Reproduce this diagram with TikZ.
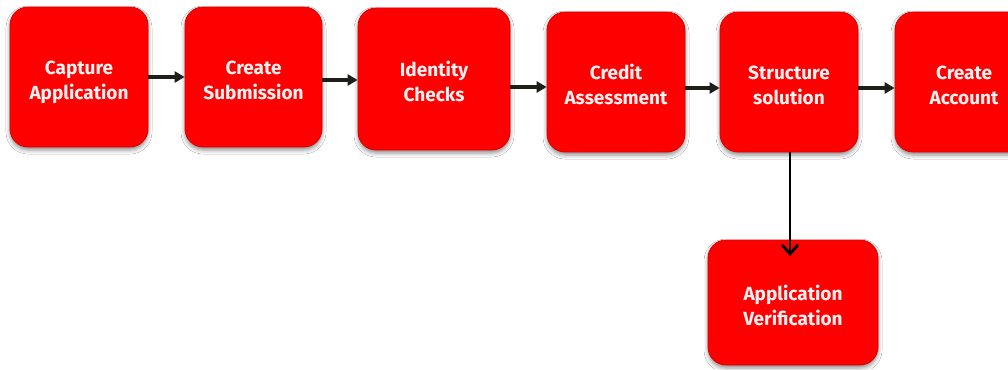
\documentclass[tikz,border=0pt]{standalone}
\usepackage{fontspec}
\setmainfont{Fira Sans}
\usetikzlibrary{arrows.meta,shadows.blur}
\definecolor{boxred}{HTML}{FF0000}
\definecolor{boxedge}{HTML}{D80000}
\definecolor{arrowc}{HTML}{1E1E1A}
\definecolor{txtc}{HTML}{FFF2F2}
\tikzset{
  stepbox/.style={draw=boxedge, line width=0.8pt, fill=boxred, rounded corners=18pt,
    minimum width=138pt, minimum height=140pt, inner sep=0pt,
    text=txtc, font=\fontsize{19}{25}\selectfont\bfseries, align=center,
    text height=46pt, text depth=1pt,
    blur shadow={shadow xshift=0pt, shadow yshift=-3pt, shadow blur radius=4pt, shadow opacity=45}},
  flow/.style={draw=arrowc, line width=3.2pt, -{Triangle[length=10pt,width=11pt]}},
  downflow/.style={draw=black, line width=2.8pt, -{Straight Barb[length=9pt,width=16pt,line width=2.8pt]}}
}
\begin{document}
\begin{tikzpicture}[x=1pt,y=-1pt]
\useasboundingbox (0,0) rectangle (1008,369);
\clip (0,0) rectangle (1008,369);
\fill[white] (0,0) rectangle (1008,369);
\node[stepbox] (b1) at (79,77) {Capture\\Application};
\node[stepbox, minimum width=137pt] (b2) at (253.5,77) {Create\\Submission};
\node[stepbox, minimum width=152pt, minimum height=142pt] (b3) at (434,79) {Identity\\Checks};
\node[stepbox] (b4) at (616,82) {Credit\\Assessment};
\node[stepbox] (b5) at (789,82) {Structure\\solution};
\node[stepbox] (b6) at (964,82) {Create\\Account};
\node[stepbox, minimum width=170pt, minimum height=125pt] (b7) at (793,302.5) {Application\\Verification};
\coordinate (t7) at (790,256);
\draw[flow] (b1.east) -- (b1.east -| b2.west);
\draw[flow] ([yshift=-3pt]b2.east) -- ([yshift=-3pt]b2.east -| b3.west);
\draw[flow] ([yshift=-8pt]b3.east) -- ([yshift=-8pt]b3.east -| b4.west);
\draw[flow] ([yshift=-6pt]b4.east) -- ([yshift=-6pt]b4.east -| b5.west);
\draw[flow] ([yshift=-6pt]b5.east) -- ([yshift=-6pt]b5.east -| b6.west);
\draw[downflow] (b5.south -| t7) -- (t7);
\end{tikzpicture}
\end{document}
